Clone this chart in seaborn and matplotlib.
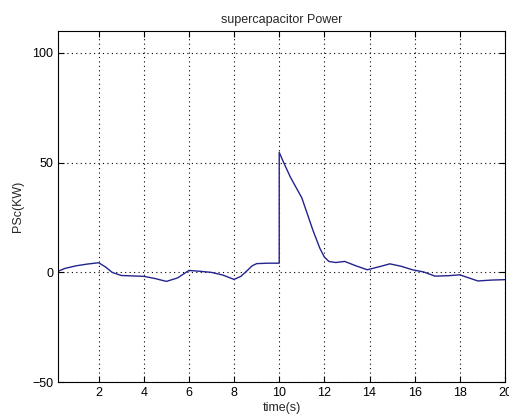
import numpy as np
import pandas as pd
import matplotlib
matplotlib.use("Agg")
import matplotlib.pyplot as plt
import seaborn as sns

# values
time_s = [0.2, 0.5, 1.0, 1.5, 2.0, 2.3, 2.6, 3.0, 3.5, 4.0, 4.5, 5.0, 5.5, 6.0,
          6.5, 7.0, 7.5, 8.0, 8.3, 8.6, 8.8, 9.0, 9.5, 10.0, 10.0, 10.2, 10.5,
          11.0, 11.5, 11.8, 12.0, 12.2, 12.5, 12.9, 13.4, 13.9, 14.4, 14.9,
          15.4, 15.9, 16.4, 16.9, 17.5, 18.0, 18.4, 18.8, 19.4, 20.0]
psc_kw = [0.5, 1.8, 3.0, 3.8, 4.4, 2.5, 0.0, -1.4, -1.6, -1.8, -2.8, -4.1, -2.5,
          0.9, 0.5, 0.0, -1.2, -3.2, -1.8, 1.0, 3.0, 4.0, 4.2, 4.2, 54.7, 50.0,
          43.3, 34.0, 19.0, 11.0, 7.0, 5.0, 4.5, 5.0, 3.0, 1.2, 2.5, 3.9, 2.8,
          1.2, 0.2, -1.7, -1.5, -1.1, -2.5, -3.9, -3.5, -3.3]
x_ticks = [2, 4, 6, 8, 10, 12, 14, 16, 18, 20]
y_ticks = [-50, 0, 50, 100]

df = pd.DataFrame({"time": time_s, "psc": psc_kw})

sns.set_style("ticks")
plt.rcParams["font.family"] = ["Liberation Sans", "DejaVu Sans"]

fig = plt.figure(figsize=(5.09, 4.19), dpi=100)
ax = fig.add_axes([0.114, 0.088, 0.878, 0.838])

sns.lineplot(data=df, x="time", y="psc", sort=False, estimator=None,
             color="#23238f", linewidth=1.0, ax=ax)

ax.set_xlim(0.2, 20)
ax.set_ylim(-50, 110)
ax.set_xticks(x_ticks)
ax.set_yticks(y_ticks)
ax.grid(True, linestyle=(0, (1, 3)), color="black", linewidth=0.8)
ax.tick_params(direction="in", top=True, right=True, length=4, colors="black",
               labelsize=9)
for s in ax.spines.values():
    s.set_color("black")
    s.set_linewidth(0.8)

ax.set_title("supercapacitor Power", fontsize=9)
ax.set_xlabel("time(s)", fontsize=9, labelpad=2)
ax.set_ylabel("PSc(KW)", fontsize=9, labelpad=6)

fig.savefig("out.png", dpi=100)
